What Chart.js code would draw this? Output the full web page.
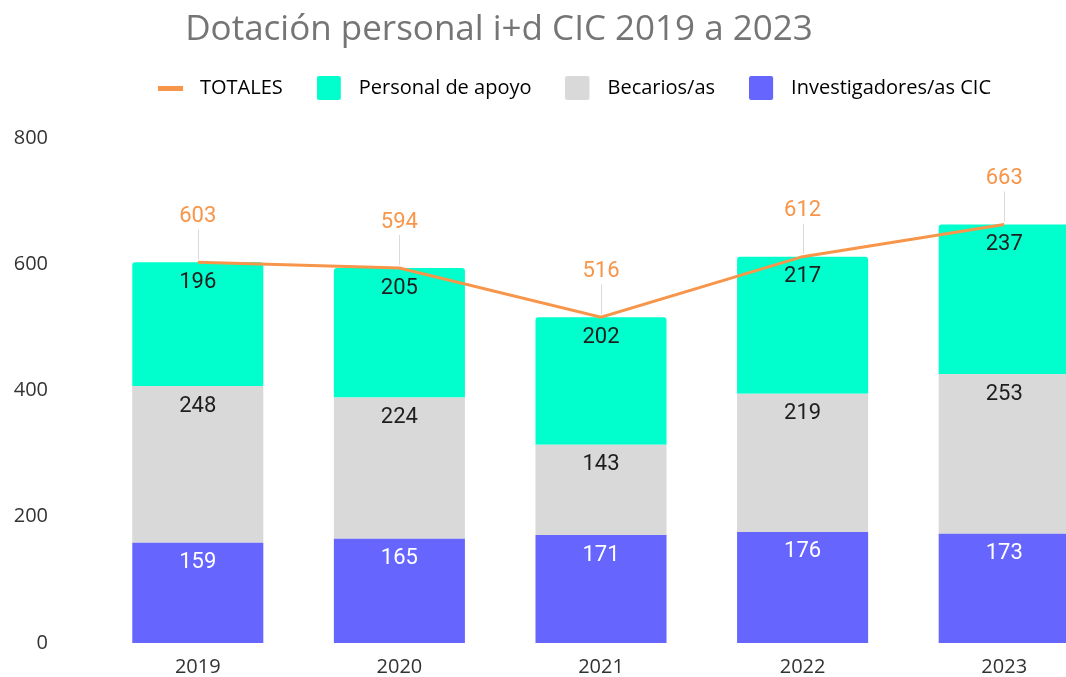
<!DOCTYPE html>
<html>
<head>
<meta charset="utf-8">
<script src="https://cdn.jsdelivr.net/npm/chart.js@4"></script>
<style>
  body { margin: 0; overflow: hidden; background: #fff; }
  #wrap { position: relative; width: 1105px; height: 677px; }
  #title {
    position: absolute; left: 0; top: 3px; width: 998px;
    text-align: center; font-family: "Open Sans", sans-serif;
    font-size: 35px; color: #757575; white-space: nowrap; z-index: 2;
  }
</style>
</head>
<body>
<div id="wrap">
  <div id="title">Dotación personal i+d CIC 2019 a 2023</div>
  <canvas id="chart"></canvas>
</div>
<script>
  const years = ["2019", "2020", "2021", "2022", "2023"];
  const investigadores = [159, 165, 171, 176, 173];
  const becarios = [248, 224, 143, 219, 253];
  const apoyo = [196, 205, 202, 217, 237];
  const totales = [603, 594, 516, 612, 663];
  const yTicks = [0, 200, 400, 600, 800];

  const ORANGE = "#F7964A";
  const TEAL = "#00FFCC";
  const GREY = "#D9D9D9";
  const BLUE = "#6666FF";

  // small swatches for the legend (box on the left, blank space on the right)
  function swatch(color, isLine) {
    const c = document.createElement("canvas");
    c.width = 32;
    c.height = 24;
    const g = c.getContext("2d");
    g.fillStyle = color;
    if (isLine) {
      g.fillRect(0, 10, 25, 5);
    } else {
      g.beginPath();
      if (g.roundRect) g.roundRect(0, 0, 24, 24, 2);
      else g.rect(0, 0, 24, 24);
      g.fill();
    }
    return c;
  }

  const valueLabels = {
    id: "valueLabels",
    beforeInit(chart) {
      // extra room under the legend
      const fit = chart.legend.fit;
      chart.legend.fit = function () {
        fit.call(this);
        this.height += 30;
      };
    },
    afterLayout(chart) {
      // centre the legend like the original
      chart.legend.left = 44;
    },
    afterDatasetsDraw(chart) {
      const ctx = chart.ctx;
      ctx.save();
      ctx.font = "22px Roboto";
      ctx.textAlign = "center";
      ctx.textBaseline = "middle";
      chart.data.datasets.forEach((ds, i) => {
        const meta = chart.getDatasetMeta(i);
        meta.data.forEach((el, j) => {
          const v = ds.data[j];
          if (ds.type === "line") {
            ctx.strokeStyle = "#DADADA";
            ctx.lineWidth = 1;
            ctx.beginPath();
            ctx.moveTo(Math.round(el.x) + 0.5, el.y - 33);
            ctx.lineTo(Math.round(el.x) + 0.5, el.y - 3);
            ctx.stroke();
            ctx.fillStyle = ORANGE;
            ctx.fillText(v, el.x, el.y - 46);
          } else {
            ctx.fillStyle = ds.labelColor;
            ctx.fillText(v, el.x, el.y + 20);
          }
        });
      });
      ctx.restore();
    }
  };

  const ctx = document.getElementById("chart").getContext("2d");
  const chart = new Chart(ctx, {
    data: {
      labels: years,
      datasets: [
        {
          type: "bar",
          label: "Investigadores/as CIC",
          data: investigadores,
          backgroundColor: BLUE,
          labelColor: "#FFFFFF",
          stack: "bars",
          order: 1,
          borderRadius: 0
        },
        {
          type: "bar",
          label: "Becarios/as",
          data: becarios,
          backgroundColor: GREY,
          labelColor: "#1E1E1E",
          stack: "bars",
          order: 1,
          borderRadius: 0
        },
        {
          type: "bar",
          label: "Personal de apoyo",
          data: apoyo,
          backgroundColor: TEAL,
          labelColor: "#1E1E1E",
          stack: "bars",
          order: 1,
          borderRadius: 3,
          borderSkipped: "bottom"
        },
        {
          type: "line",
          label: "TOTALES",
          data: totales,
          borderColor: ORANGE,
          backgroundColor: ORANGE,
          borderWidth: 3,
          pointRadius: 0,
          tension: 0,
          stack: "line",
          order: 0
        }
      ]
    },
    options: {
      responsive: true,
      maintainAspectRatio: false,
      animation: false,
      layout: { padding: { top: 44, left: 0, right: 0, bottom: 0 } },
      datasets: {
        bar: { barPercentage: 0.65, categoryPercentage: 1 }
      },
      plugins: {
        tooltip: { enabled: false },
        legend: {
          position: "top",
          labels: {
            usePointStyle: true,
            pointStyleWidth: 32,
            padding: 34,
            color: "#404040",
            font: { family: "Open Sans", size: 20 },
            generateLabels: () => [
              { text: "TOTALES", pointStyle: swatch(ORANGE, true), datasetIndex: 3, lineWidth: 0, hidden: false },
              { text: "Personal de apoyo", pointStyle: swatch(TEAL), datasetIndex: 2, lineWidth: 0, hidden: false },
              { text: "Becarios/as", pointStyle: swatch(GREY), datasetIndex: 1, lineWidth: 0, hidden: false },
              { text: "Investigadores/as CIC", pointStyle: swatch(BLUE), datasetIndex: 0, lineWidth: 0, hidden: false }
            ]
          }
        }
      },
      scales: {
        x: {
          stacked: true,
          afterFit: (scale) => { scale.height = 34; },
          grid: { display: false, drawTicks: false },
          border: { display: false },
          ticks: {
            padding: 12,
            color: "#333333",
            font: { family: "Open Sans", size: 20 }
          }
        },
        y: {
          stacked: true,
          min: yTicks[0],
          max: yTicks[yTicks.length - 1],
          afterFit: (scale) => {
            scale.width = 97;
            scale.paddingTop = 0;
            scale.paddingBottom = 0;
          },
          afterBuildTicks: (scale) => {
            scale.ticks = yTicks.map((v) => ({ value: v }));
          },
          grid: { display: false, drawTicks: false },
          border: { display: false },
          ticks: {
            padding: 49,
            color: "#333333",
            font: { family: "Open Sans", size: 20 }
          }
        }
      }
    },
    plugins: [valueLabels]
  });
</script>
</body>
</html>
